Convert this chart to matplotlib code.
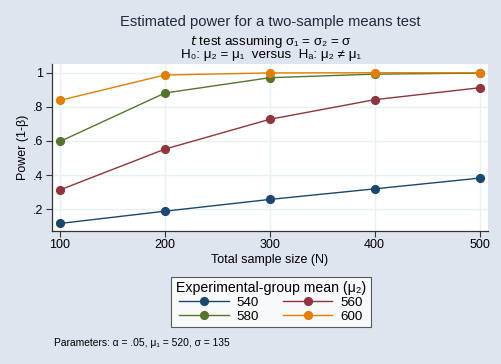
import numpy as np
import matplotlib.pyplot as plt

plt.rcParams['font.family'] = ['Liberation Sans', 'DejaVu Sans']

# data
sample_size = [100, 200, 300, 400, 500]
mu2_labels = ['540', '560', '580', '600']
power_540 = [0.116, 0.188, 0.257, 0.319, 0.382]
power_560 = [0.313, 0.552, 0.727, 0.842, 0.912]
power_580 = [0.597, 0.881, 0.971, 0.992, 0.998]
power_600 = [0.838, 0.987, 0.999, 1.0, 1.0]
yticks = [0.2, 0.4, 0.6, 0.8, 1.0]
ytick_labels = ['.2', '.4', '.6', '.8', '1']

colors = ['#1a476f', '#90353b', '#55752f', '#e37e00']
bg = '#dfe5ef'
grid_col = '#e9f0f2'

fig = plt.figure(figsize=(5.01, 3.64), dpi=100, facecolor=bg)
ax = fig.add_axes([0.103, 0.365, 0.871, 0.459])
ax.set_facecolor('white')

lines = []
for vals, lab, c in zip([power_540, power_560, power_580, power_600], mu2_labels, colors):
    ln, = ax.plot(sample_size, vals, color=c, lw=1.0, marker='o', ms=5.6,
                  markeredgecolor=c, label=lab, zorder=3, clip_on=False)
    lines.append(ln)

ax.set_xlim(92, 508)
ax.set_ylim(0.071, 1.051)
ax.set_xticks(sample_size)
ax.set_yticks(yticks)
ax.set_yticklabels(ytick_labels)
ax.grid(True, color=grid_col, lw=1.0, zorder=0)
for s in ['top', 'right']:
    ax.spines[s].set_visible(False)
for s in ['left', 'bottom']:
    ax.spines[s].set_color('#333333')
    ax.spines[s].set_linewidth(0.9)
ax.tick_params(direction='out', length=4, width=0.8, color='#333333',
               labelsize=9, labelcolor='black', pad=2)
ax.set_xlabel('Total sample size (N)', fontsize=9, labelpad=2)
ax.set_ylabel('Power (1-β)', fontsize=9, labelpad=3)

fig.text(0.54, 0.94, 'Estimated power for a two-sample means test',
         ha='center', va='center', fontsize=10.6, color='#1e2a3a')
fig.text(0.54, 0.884, r'$\it{t}$' + ' test assuming σ₁ = σ₂ = σ',
         ha='center', va='center', fontsize=9.6)
fig.text(0.54, 0.848, 'H₀: μ₂ = μ₁  versus  Hₐ: μ₂ ≠ μ₁',
         ha='center', va='center', fontsize=9.6)

# row-wise order: 540 560 / 580 600
order = [0, 2, 1, 3]
leg = fig.legend([lines[i] for i in order], [mu2_labels[i] for i in order],
                 loc='upper center', bbox_to_anchor=(0.541, 0.258), ncol=2,
                 title='Experimental-group mean (μ₂)', title_fontsize=10.2,
                 fontsize=9.6, frameon=True, fancybox=False, edgecolor='#333333',
                 handlelength=3.7, columnspacing=1.8, borderpad=0.35,
                 labelspacing=0.1, handletextpad=0.6)
leg.get_frame().set_linewidth(0.8)

fig.text(0.108, 0.058, 'Parameters: α = .05, μ₁ = 520, σ = 135',
         ha='left', va='center', fontsize=7.4)

fig.savefig('out.png', dpi=100, facecolor=bg)
